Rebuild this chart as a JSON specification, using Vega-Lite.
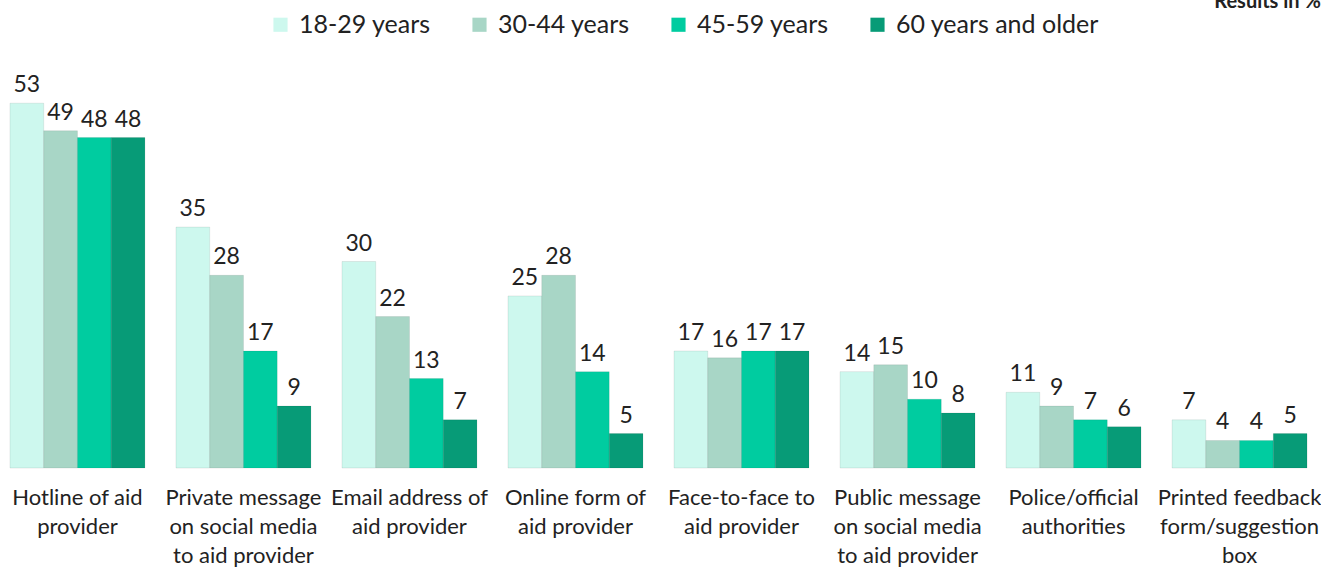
{
  "$schema": "https://vega.github.io/schema/vega-lite/v6.json",
  "width": 1317,
  "height": 413,
  "autosize": "none",
  "padding": {"left": 0, "top": 55, "right": 4, "bottom": 100},
  "background": "white",
  "title": {"text": "Results in %", "anchor": "end", "orient": "top", "fontSize": 20, "font": "Lato", "fontWeight": "bold", "color": "#222", "baseline": "bottom", "offset": 0, "dy": 20},
  "data": {"values": [
    {"cat": "Hotline of aid\nprovider", "group": "18-29 years", "value": 53},
    {"cat": "Hotline of aid\nprovider", "group": "30-44 years", "value": 49},
    {"cat": "Hotline of aid\nprovider", "group": "45-59 years", "value": 48},
    {"cat": "Hotline of aid\nprovider", "group": "60 years and older", "value": 48},
    {"cat": "Private message\non social media\nto aid provider", "group": "18-29 years", "value": 35},
    {"cat": "Private message\non social media\nto aid provider", "group": "30-44 years", "value": 28},
    {"cat": "Private message\non social media\nto aid provider", "group": "45-59 years", "value": 17},
    {"cat": "Private message\non social media\nto aid provider", "group": "60 years and older", "value": 9},
    {"cat": "Email address of\naid provider", "group": "18-29 years", "value": 30},
    {"cat": "Email address of\naid provider", "group": "30-44 years", "value": 22},
    {"cat": "Email address of\naid provider", "group": "45-59 years", "value": 13},
    {"cat": "Email address of\naid provider", "group": "60 years and older", "value": 7},
    {"cat": "Online form of\naid provider", "group": "18-29 years", "value": 25},
    {"cat": "Online form of\naid provider", "group": "30-44 years", "value": 28},
    {"cat": "Online form of\naid provider", "group": "45-59 years", "value": 14},
    {"cat": "Online form of\naid provider", "group": "60 years and older", "value": 5},
    {"cat": "Face-to-face to\naid provider", "group": "18-29 years", "value": 17},
    {"cat": "Face-to-face to\naid provider", "group": "30-44 years", "value": 16},
    {"cat": "Face-to-face to\naid provider", "group": "45-59 years", "value": 17},
    {"cat": "Face-to-face to\naid provider", "group": "60 years and older", "value": 17},
    {"cat": "Public message\non social media\nto aid provider", "group": "18-29 years", "value": 14},
    {"cat": "Public message\non social media\nto aid provider", "group": "30-44 years", "value": 15},
    {"cat": "Public message\non social media\nto aid provider", "group": "45-59 years", "value": 10},
    {"cat": "Public message\non social media\nto aid provider", "group": "60 years and older", "value": 8},
    {"cat": "Police/official\nauthorities", "group": "18-29 years", "value": 11},
    {"cat": "Police/official\nauthorities", "group": "30-44 years", "value": 9},
    {"cat": "Police/official\nauthorities", "group": "45-59 years", "value": 7},
    {"cat": "Police/official\nauthorities", "group": "60 years and older", "value": 6},
    {"cat": "Printed feedback\nform/suggestion\nbox", "group": "18-29 years", "value": 7},
    {"cat": "Printed feedback\nform/suggestion\nbox", "group": "30-44 years", "value": 4},
    {"cat": "Printed feedback\nform/suggestion\nbox", "group": "45-59 years", "value": 4},
    {"cat": "Printed feedback\nform/suggestion\nbox", "group": "60 years and older", "value": 5}
  ]},
  "encoding": {
    "x": {"field": "cat", "type": "nominal", "sort": null, "title": null,
      "scale": {"paddingInner": 0.187, "paddingOuter": 0.06},
      "axis": {"domain": false, "ticks": false, "labelAngle": 0, "labelFontSize": 22, "labelFont": "Lato", "labelColor": "#222", "labelPadding": 19, "labelLineHeight": 29, "labelExpr": "split(datum.label, '\\n')", "labelBaseline": "top", "labelLimit": 300}},
    "xOffset": {"field": "group", "type": "nominal", "sort": null, "scale": {"paddingInner": 0, "paddingOuter": 0}},
    "y": {"field": "value", "type": "quantitative", "scale": {"domain": [0, 60]}, "axis": null}
  },
  "layer": [
    {"mark": {"type": "bar", "stroke": "#000", "strokeOpacity": 0.08, "strokeWidth": 1},
     "encoding": {
       "color": {"field": "group", "type": "nominal", "sort": null,
         "scale": {"domain": ["18-29 years", "30-44 years", "45-59 years", "60 years and older"], "range": ["#cdf8ee", "#a8d6c6", "#00cca0", "#079b77"]},
         "legend": {"title": null, "orient": "none", "legendX": 268, "legendY": -43, "direction": "horizontal", "columns": 4, "symbolType": "square", "symbolSize": 200, "symbolStrokeWidth": 0, "labelFontSize": 25, "labelFont": "Lato", "labelColor": "#222", "columnPadding": 36, "labelOffset": 6, "labelLimit": 400}}
     }},
    {"mark": {"type": "text", "baseline": "bottom", "dy": -6, "fontSize": 23, "font": "Lato", "color": "#222"},
     "encoding": {"text": {"field": "value", "type": "quantitative"}}}
  ],
  "config": {"view": {"stroke": null}}
}
